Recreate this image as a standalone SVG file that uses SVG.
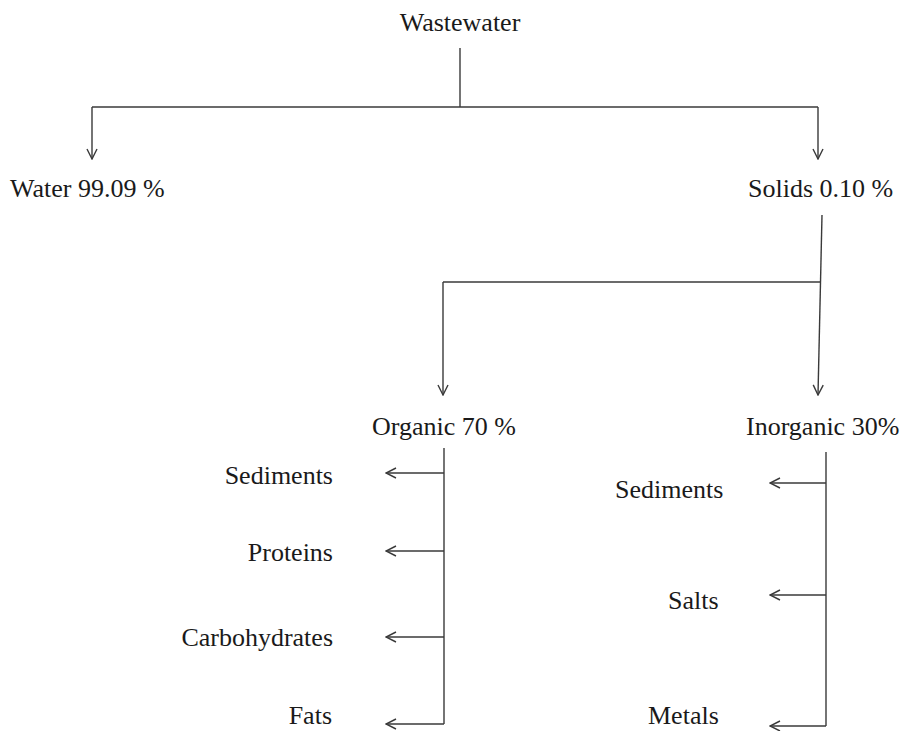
<svg xmlns="http://www.w3.org/2000/svg" width="905" height="731" viewBox="0 0 905 731">
<style>
text{font-family:"Liberation Serif","Times New Roman",serif;font-size:26px;fill:#1a1a1a}
.c{fill:none;stroke:#3a3a3a;stroke-width:1.4}
.e{text-anchor:end}
.m{text-anchor:middle}
</style>
<defs>
<marker id="a" viewBox="0 0 12 12" refX="11" refY="6" markerWidth="12" markerHeight="12" markerUnits="userSpaceOnUse" orient="auto">
<path d="M1,1 L11,6 L1,11" fill="none" stroke="#3a3a3a" stroke-width="1.4"/>
</marker>
</defs>
<rect width="905" height="731" fill="#fff"/>
<g id="connectors">
<path class="c" d="M460,48 V107"/>
<path class="c" d="M92,107 H818"/>
<path class="c" d="M92,107 V159" marker-end="url(#a)"/>
<path class="c" d="M818,107 V159" marker-end="url(#a)"/>
<path class="c" d="M822,215 L818,395" marker-end="url(#a)"/>
<path class="c" d="M443,282 H821"/>
<path class="c" d="M443,282 V395" marker-end="url(#a)"/>
<path class="c" d="M444,448 V724"/>
<path class="c" d="M444,473 H386" marker-end="url(#a)"/>
<path class="c" d="M444,551 H386" marker-end="url(#a)"/>
<path class="c" d="M444,637 H386" marker-end="url(#a)"/>
<path class="c" d="M444,724 H386" marker-end="url(#a)"/>
<path class="c" d="M826,452 V726"/>
<path class="c" d="M826,483 H770" marker-end="url(#a)"/>
<path class="c" d="M826,595 H770" marker-end="url(#a)"/>
<path class="c" d="M826,726 H770" marker-end="url(#a)"/>
</g>
<g id="wastewater"><text class="m" x="460" y="31">Wastewater</text></g>
<g id="water"><text x="10" y="197">Water 99.09 %</text></g>
<g id="solids"><text x="748" y="197">Solids 0.10 %</text></g>
<g id="organic"><text x="372" y="435">Organic 70 %</text></g>
<g id="inorganic"><text x="746" y="435">Inorganic 30%</text></g>
<g id="org-sediments"><text class="e" x="333" y="484">Sediments</text></g>
<g id="proteins"><text class="e" x="333" y="561">Proteins</text></g>
<g id="carbohydrates"><text class="e" x="333" y="646">Carbohydrates</text></g>
<g id="fats"><text class="e" x="332" y="724">Fats</text></g>
<g id="inorg-sediments"><text x="615" y="498">Sediments</text></g>
<g id="salts"><text x="668" y="609">Salts</text></g>
<g id="metals"><text x="648" y="724">Metals</text></g>
</svg>
